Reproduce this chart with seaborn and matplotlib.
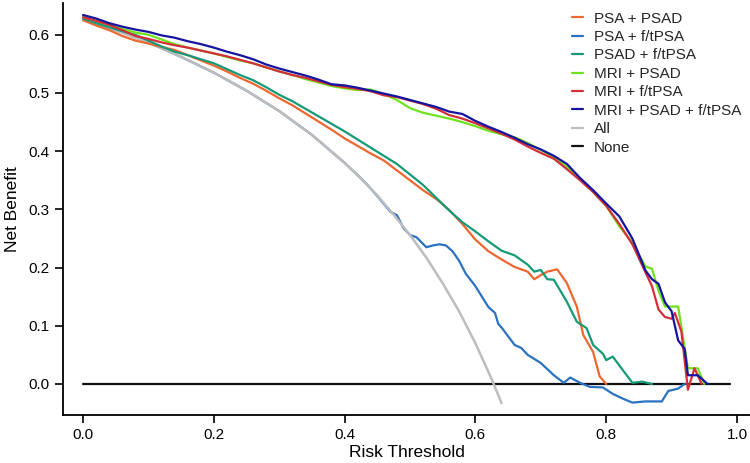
"""
Decision curve analysis: net benefit vs risk threshold for the biomarker models.
"""
import pandas as pd
import matplotlib
matplotlib.use("Agg")
import matplotlib.pyplot as plt
import seaborn as sns

# ---- values ----
psa_psad_x = [0.00, 0.02, 0.04, 0.06, 0.08, 0.10, 0.12, 0.14, 0.16, 0.18, 0.20, 0.22, 0.24, 0.26,
              0.28, 0.30, 0.32, 0.34, 0.36, 0.38, 0.40, 0.42, 0.44, 0.46, 0.48, 0.50, 0.52, 0.54,
              0.56, 0.58, 0.60, 0.62, 0.64, 0.66, 0.68, 0.69, 0.70, 0.71, 0.725, 0.74, 0.755,
              0.765, 0.78, 0.79, 0.80]
psa_psad_y = [0.625, 0.616, 0.608, 0.598, 0.590, 0.585, 0.579, 0.574, 0.565, 0.556, 0.547, 0.537,
              0.526, 0.516, 0.504, 0.491, 0.479, 0.465, 0.451, 0.437, 0.422, 0.409, 0.396, 0.384,
              0.367, 0.350, 0.333, 0.318, 0.299, 0.275, 0.248, 0.228, 0.214, 0.201, 0.193, 0.180,
              0.187, 0.193, 0.197, 0.173, 0.133, 0.084, 0.055, 0.013, 0.0]

psa_ftpsa_x = [0.00, 0.05, 0.10, 0.15, 0.20, 0.25, 0.30, 0.35, 0.40, 0.43, 0.45, 0.47, 0.48,
               0.49, 0.50, 0.51, 0.525, 0.535, 0.545, 0.555, 0.565, 0.575, 0.585, 0.60, 0.61,
               0.62, 0.63, 0.635, 0.64, 0.65, 0.66, 0.67, 0.68, 0.70, 0.72, 0.735, 0.745, 0.76,
               0.775, 0.795, 0.81, 0.825, 0.84, 0.86, 0.885, 0.895, 0.91, 0.92]
psa_ftpsa_y = [0.628, 0.608, 0.587, 0.562, 0.535, 0.504, 0.469, 0.428, 0.380, 0.348, 0.323,
               0.296, 0.290, 0.268, 0.256, 0.252, 0.235, 0.238, 0.240, 0.238, 0.228, 0.212,
               0.190, 0.168, 0.150, 0.132, 0.122, 0.103, 0.097, 0.082, 0.067, 0.062, 0.050,
               0.036, 0.015, 0.002, 0.011, 0.002, -0.005, -0.006, -0.017, -0.025, -0.032,
               -0.030, -0.030, -0.012, -0.008, 0.0]

psad_ftpsa_x = [0.00, 0.02, 0.04, 0.06, 0.08, 0.10, 0.12, 0.14, 0.16, 0.18, 0.20, 0.22, 0.24,
                0.26, 0.28, 0.30, 0.32, 0.34, 0.36, 0.38, 0.40, 0.42, 0.44, 0.46, 0.48, 0.50,
                0.52, 0.54, 0.56, 0.58, 0.60, 0.62, 0.64, 0.66, 0.68, 0.69, 0.70, 0.71, 0.72,
                0.74, 0.755, 0.77, 0.78, 0.795, 0.80, 0.81, 0.83, 0.84, 0.855, 0.87]
psad_ftpsa_y = [0.628, 0.620, 0.613, 0.606, 0.600, 0.590, 0.580, 0.571, 0.565, 0.558, 0.551,
                0.541, 0.531, 0.522, 0.510, 0.497, 0.486, 0.473, 0.460, 0.447, 0.434, 0.420,
                0.406, 0.392, 0.378, 0.360, 0.342, 0.320, 0.298, 0.278, 0.262, 0.245, 0.229,
                0.221, 0.205, 0.193, 0.196, 0.180, 0.179, 0.141, 0.107, 0.096, 0.067, 0.052,
                0.041, 0.047, 0.017, 0.002, 0.004, 0.0]

mri_psad_x = [0.00, 0.02, 0.04, 0.06, 0.08, 0.10, 0.12, 0.14, 0.16, 0.18, 0.20, 0.22, 0.24, 0.26,
              0.28, 0.30, 0.32, 0.34, 0.36, 0.38, 0.40, 0.42, 0.44, 0.46, 0.48, 0.50, 0.52, 0.54,
              0.56, 0.58, 0.60, 0.62, 0.64, 0.66, 0.68, 0.70, 0.72, 0.74, 0.76, 0.78, 0.80, 0.82,
              0.84, 0.86, 0.87, 0.88, 0.89, 0.91, 0.925, 0.94, 0.95]
mri_psad_y = [0.630, 0.624, 0.617, 0.610, 0.604, 0.600, 0.592, 0.584, 0.578, 0.573, 0.568, 0.562,
              0.556, 0.551, 0.544, 0.537, 0.531, 0.524, 0.518, 0.512, 0.508, 0.505, 0.506, 0.498,
              0.488, 0.474, 0.466, 0.461, 0.456, 0.450, 0.443, 0.435, 0.429, 0.424, 0.414, 0.402,
              0.390, 0.373, 0.352, 0.330, 0.306, 0.271, 0.243, 0.202, 0.198, 0.160, 0.133, 0.133,
              0.027, 0.027, 0.0]

mri_ftpsa_x = [0.00, 0.02, 0.04, 0.06, 0.08, 0.10, 0.12, 0.14, 0.16, 0.18, 0.20, 0.22, 0.24,
               0.26, 0.28, 0.30, 0.32, 0.34, 0.36, 0.38, 0.40, 0.42, 0.44, 0.46, 0.48, 0.50,
               0.52, 0.54, 0.56, 0.58, 0.60, 0.62, 0.64, 0.66, 0.68, 0.70, 0.72, 0.74, 0.76,
               0.78, 0.80, 0.82, 0.84, 0.86, 0.87, 0.88, 0.89, 0.90, 0.905, 0.915, 0.925,
               0.935, 0.946]
mri_ftpsa_y = [0.630, 0.624, 0.617, 0.608, 0.598, 0.593, 0.587, 0.582, 0.578, 0.573, 0.568,
               0.563, 0.557, 0.551, 0.544, 0.537, 0.531, 0.526, 0.520, 0.514, 0.510, 0.507,
               0.503, 0.496, 0.493, 0.487, 0.481, 0.473, 0.462, 0.456, 0.448, 0.439, 0.430,
               0.420, 0.408, 0.397, 0.387, 0.369, 0.350, 0.330, 0.306, 0.275, 0.240, 0.192,
               0.168, 0.128, 0.115, 0.112, 0.122, 0.090, -0.010, 0.027, 0.0]

mri_psad_ftpsa_x = [0.00, 0.02, 0.04, 0.06, 0.08, 0.10, 0.12, 0.14, 0.16, 0.18, 0.20, 0.22,
                    0.24, 0.26, 0.28, 0.30, 0.32, 0.34, 0.36, 0.38, 0.40, 0.42, 0.44, 0.46,
                    0.48, 0.50, 0.52, 0.54, 0.56, 0.58, 0.60, 0.62, 0.64, 0.66, 0.68, 0.70,
                    0.72, 0.74, 0.76, 0.78, 0.80, 0.82, 0.84, 0.86, 0.87, 0.88, 0.89, 0.90,
                    0.91, 0.92, 0.925, 0.94, 0.955]
mri_psad_ftpsa_y = [0.634, 0.628, 0.620, 0.614, 0.609, 0.605, 0.599, 0.595, 0.589, 0.584,
                    0.578, 0.571, 0.565, 0.558, 0.549, 0.542, 0.536, 0.530, 0.523, 0.515,
                    0.513, 0.509, 0.504, 0.499, 0.494, 0.488, 0.482, 0.476, 0.468, 0.464,
                    0.452, 0.442, 0.433, 0.423, 0.412, 0.403, 0.392, 0.378, 0.354, 0.333,
                    0.310, 0.288, 0.250, 0.195, 0.180, 0.172, 0.140, 0.125, 0.075, 0.060,
                    0.015, 0.015, 0.0]

all_x = [0.00, 0.05, 0.10, 0.15, 0.20, 0.25, 0.30, 0.35, 0.40, 0.425, 0.45, 0.475, 0.50,
         0.525, 0.55, 0.575, 0.60, 0.625, 0.64]
all_y = [0.628, 0.608, 0.587, 0.562, 0.535, 0.504, 0.469, 0.428, 0.380, 0.353, 0.324, 0.291,
         0.256, 0.217, 0.173, 0.125, 0.070, 0.008, -0.033]

none_x = [0.00, 0.99]
none_y = [0.0, 0.0]

labels = ["PSA + PSAD", "PSA + f/tPSA", "PSAD + f/tPSA", "MRI + PSAD",
          "MRI + f/tPSA", "MRI + PSAD + f/tPSA", "All", "None"]
colors = ["#EE6630", "#2A72C2", "#159A78", "#6EE21C", "#D42F38", "#14149E", "#BDBDBD", "#111111"]

series = [(psa_psad_x, psa_psad_y), (psa_ftpsa_x, psa_ftpsa_y), (psad_ftpsa_x, psad_ftpsa_y),
          (mri_psad_x, mri_psad_y), (mri_ftpsa_x, mri_ftpsa_y),
          (mri_psad_ftpsa_x, mri_psad_ftpsa_y), (all_x, all_y), (none_x, none_y)]

frames = []
for name, (xs, ys) in zip(labels, series):
    frames.append(pd.DataFrame({"threshold": xs, "net_benefit": ys, "model": name}))
df = pd.concat(frames, ignore_index=True)

sns.set_theme(style="ticks")
plt.rcParams['font.family'] = ['Liberation Sans', 'DejaVu Sans']

fig = plt.figure(figsize=(7.5, 4.63), dpi=100)
ax = fig.add_axes([0.084, 0.1037, 0.916, 0.8898])

# All sits on top of PSA + f/tPSA where the two overlap; combined models on top
draw_order = ["None", "PSA + f/tPSA", "All", "PSA + PSAD", "PSAD + f/tPSA",
              "MRI + PSAD", "MRI + f/tPSA", "MRI + PSAD + f/tPSA"]
palette = dict(zip(labels, colors))
widths = {"All": 1.8}
for name in draw_order:
    sub = df[df["model"] == name]
    sns.lineplot(data=sub, x="threshold", y="net_benefit", color=palette[name],
                 linewidth=widths.get(name, 1.6), sort=False, estimator=None, ax=ax, label=name)

ax.set_xlim(-0.0306, 1.0199)
ax.set_ylim(-0.0533, 0.6546)
ax.set_xticks([0.0, 0.2, 0.4, 0.6, 0.8, 1.0])
ax.set_xticklabels(["0.0", "0.2", "0.4", "0.6", "0.8", "1.0"])
ax.set_yticks([0.0, 0.1, 0.2, 0.3, 0.4, 0.5, 0.6])
ax.set_yticklabels(["0.0", "0.1", "0.2", "0.3", "0.4", "0.5", "0.6"])
ax.set_xlabel("Risk Threshold", fontsize=12.5, color="black", labelpad=2)
ax.set_ylabel("Net Benefit", fontsize=12.5, color="black", labelpad=6)
ax.tick_params(axis="both", labelsize=11, colors="black", length=6, width=1.2, direction="out")
for side in ["top", "right"]:
    ax.spines[side].set_visible(False)
for side in ["left", "bottom"]:
    ax.spines[side].set_color("black")
    ax.spines[side].set_linewidth(1.3)

handles, names = ax.get_legend_handles_labels()
lookup = dict(zip(names, handles))
leg = ax.legend([lookup[n] for n in labels], labels, loc="upper left",
                bbox_to_anchor=(0.7627, 0.975), bbox_transform=fig.transFigure,
                frameon=False, fontsize=11, handlelength=0.75, handletextpad=0.7,
                labelspacing=0.29, borderpad=0, borderaxespad=0)
for line in leg.get_lines():
    line.set_linewidth(1.6)

fig.savefig("out.png", dpi=100)
